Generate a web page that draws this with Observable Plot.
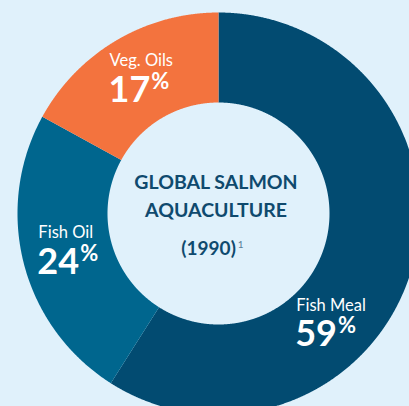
<!DOCTYPE html>
<html><head><meta charset="utf-8">
<script src="https://cdn.jsdelivr.net/npm/d3@7"></script>
<script src="https://cdn.jsdelivr.net/npm/@observablehq/plot@0.6"></script>
<style>
html,body{margin:0;padding:0;background:#e0f1fb;overflow:hidden;}
#chart svg{display:block;}
</style></head><body><div id="chart"></div>
<script>
// ---- data ----
const categories = ["Fish Meal", "Fish Oil", "Veg. Oils"];
const shares = [59, 24, 17];
const colors = ["#024b71", "#00668e", "#f3733e"];
const centerLines = ["GLOBAL SALMON", "AQUACULTURE"];
const yearLabel = "(1990)";
const footnote = "1";

// ---- layout ----
const W = 409, H = 406, cx = 218, cy = 213, R = 201, R0 = 111;
const inner = R0 / R;
const labelR = 155 / R;
const labelAngleOverride = {"Fish Meal": 136 * Math.PI / 180};

const rows = categories.map((c, i) => ({category: c, share: shares[i]}));
const arcs = d3.pie().sort(null).value(d => d.share)(rows);

const pts = [];
for (const a of arcs) {
  const n = Math.ceil((a.endAngle - a.startAngle) / 0.004);
  for (let k = 0; k <= n; k++) {
    const t = a.startAngle + (a.endAngle - a.startAngle) * k / n;
    pts.push({category: a.data.category, x: Math.sin(t), y: Math.cos(t)});
  }
  for (let k = n; k >= 0; k--) {
    const t = a.startAngle + (a.endAngle - a.startAngle) * k / n;
    pts.push({category: a.data.category, x: inner * Math.sin(t), y: inner * Math.cos(t)});
  }
}

const labels = arcs.map(a => {
  const t = labelAngleOverride[a.data.category] ?? (a.startAngle + a.endAngle) / 2;
  return {category: a.data.category, pct: a.data.share + "%", x: labelR * Math.sin(t), y: labelR * Math.cos(t)};
});
const center = [{x: 0, y: 0}];

const plot = Plot.plot({
  width: W, height: H, margin: 0,
  style: {background: "transparent", fontFamily: "Lato, sans-serif"},
  x: {axis: null, domain: [-cx / R, (W - cx) / R]},
  y: {axis: null, domain: [-(H - cy) / R, cy / R]},
  color: {domain: categories, range: colors},
  marks: [
    Plot.line(pts, {x: "x", y: "y", z: "category", fill: "category", stroke: "none", curve: "linear"}),
    Plot.text(labels, {x: "x", y: "y", text: "category", textAnchor: "start", lineAnchor: "bottom", dx: -30, dy: -14, fill: "white", fontSize: 16.5}),
    Plot.text(labels, {x: "x", y: "y", text: "pct", textAnchor: "start", lineAnchor: "bottom", dx: -31, dy: 21.5, fill: "white", fontSize: 36, fontWeight: "bold"}),
    Plot.text(center, {x: "x", y: "y", text: () => centerLines[0], dx: -2.5, dy: -31, fill: "#0f4a6e", fontSize: 19.5, fontWeight: "bold"}),
    Plot.text(center, {x: "x", y: "y", text: () => centerLines[1], dx: -2.5, dy: -3, fill: "#0f4a6e", fontSize: 19.5, fontWeight: "bold"}),
    Plot.text(center, {x: "x", y: "y", text: () => yearLabel, dx: -6, dy: 35, fill: "#0f4a6e", fontSize: 19, fontWeight: "bold"})
  ]
});

const ns = "http://www.w3.org/2000/svg";
plot.querySelectorAll("text").forEach(t => {
  const s = t.textContent;
  if (/^\d+%$/.test(s)) {
    t.textContent = s.slice(0, -1);
    const ts = document.createElementNS(ns, "tspan");
    ts.textContent = "%";
    ts.setAttribute("font-size", "22");
    ts.setAttribute("dx", "1");
    ts.setAttribute("dy", "-13");
    t.appendChild(ts);
  } else if (s === yearLabel) {
    const ts = document.createElementNS(ns, "tspan");
    ts.textContent = footnote;
    ts.setAttribute("font-size", "10");
    ts.setAttribute("font-weight", "normal");
    ts.setAttribute("fill", "#5a7f97");
    ts.setAttribute("dx", "2");
    ts.setAttribute("dy", "-7");
    t.appendChild(ts);
  }
});
document.getElementById("chart").appendChild(plot);
</script></body></html>
